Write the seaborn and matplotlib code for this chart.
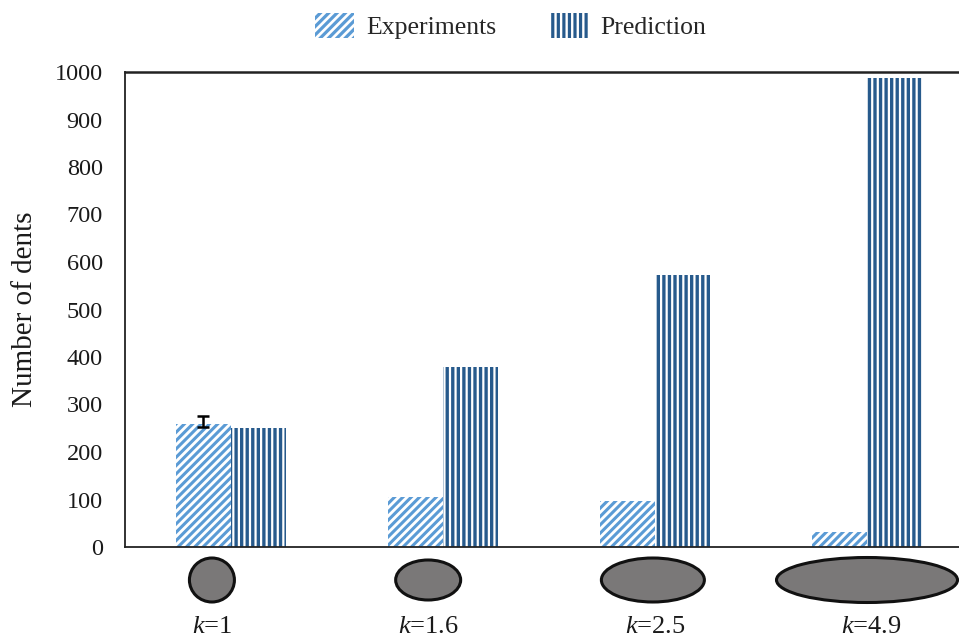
import numpy as np
import pandas as pd
import matplotlib
matplotlib.use("Agg")
import matplotlib.pyplot as plt
import matplotlib.transforms as mtransforms
from matplotlib.patches import Ellipse, Patch
import seaborn as sns

# ---- data ----
categories = ["k=1", "k=1.6", "k=2.5", "k=4.9"]
tick_labels = [r"$k$=1", r"$k$=1.6", r"$k$=2.5", r"$k$=4.9"]
experiments = [259, 105, 97, 32]
prediction = [250, 379, 573, 987]
exp_err_low = [6]
exp_err_high = [17]
series_names = ["Experiments", "Prediction"]
yticks = list(range(0, 1001, 100))

# ellipse illustration (width/height in pixels) and label offsets (category units)
ell_w = [45, 65, 103, 181]
ell_h = [44, 40, 44, 45]
ell_dx = [-0.09, -0.07, -0.01, 0.0]
lab_dx = [-0.09, -0.07, 0.0, 0.02]

df = pd.DataFrame({
    "k": categories * 2,
    "dents": experiments + prediction,
    "series": [series_names[0]] * 4 + [series_names[1]] * 4,
})

sns.set_theme(style="white")
plt.rcParams["font.family"] = ["Liberation Serif", "DejaVu Serif"]
plt.rcParams["mathtext.fontset"] = "custom"
plt.rcParams["mathtext.rm"] = "Liberation Serif"
plt.rcParams["mathtext.it"] = "Liberation Serif:italic"
plt.rcParams["hatch.linewidth"] = 2.3

c_exp = "#5b9bd5"
c_pred = "#275a8c"

W, H = 959, 643
fig = plt.figure(figsize=(W / 100, H / 100), dpi=100)
ax = fig.add_axes([125 / W, 1 - 547 / H, 848 / W, 475 / H])

sns.barplot(data=df, x="k", y="dents", hue="series", order=categories,
            hue_order=series_names, width=0.52, ax=ax, legend=False,
            palette=["white", "white"], errorbar=None)

hatches = ["////", "|||"]
colors = [c_exp, c_pred]
hlw = [2.2, 2.4]
for cont, h, c, lw in zip(ax.containers, hatches, colors, hlw):
    for bar in cont:
        bar.set_facecolor("white")
        bar.set_edgecolor(c)
        bar.set_linewidth(0)
        bar.set_hatch(h)
        try:
            bar.set_hatch_linewidth(lw)
        except Exception:
            pass

# error bar on first experiment bar
b0 = ax.containers[0][0]
ax.errorbar([b0.get_x() + b0.get_width() / 2], [experiments[0]],
            yerr=[exp_err_low, exp_err_high], fmt="none", ecolor="black",
            elinewidth=1.8, capsize=4, capthick=1.8, zorder=5)

ax.set_xlim(-0.5, 3.5)
ax.set_ylim(0, 1000)
ax.set_yticks(yticks)
ax.set_yticklabels([str(t) for t in yticks], fontsize=17.5)
ax.tick_params(axis="y", length=0, pad=16, colors="#1a1a1a")
ax.set_xticks([])
ax.set_xlabel("")
ax.set_ylabel("Number of dents", fontsize=21, labelpad=12, color="#1a1a1a")

for s in ["left", "top", "bottom"]:
    ax.spines[s].set_visible(True)
    ax.spines[s].set_color("#222222")
    ax.spines[s].set_linewidth(1.3)
ax.spines["top"].set_linewidth(1.8)
ax.spines["right"].set_visible(False)

# ellipse illustrations and category labels below axis
px_x = 212.0  # pixels per category
px_y = 475.0
trans = mtransforms.blended_transform_factory(ax.transData, ax.transAxes)
for i in range(len(categories)):
    e = Ellipse((i + ell_dx[i], -33 / px_y), width=ell_w[i] / px_x,
                height=ell_h[i] / px_y, transform=trans, facecolor="#7a7878",
                edgecolor="#111111", linewidth=2.2, clip_on=False)
    ax.add_patch(e)
    ax.text(i + lab_dx[i], -80 / px_y, tick_labels[i], transform=trans,
            ha="center", va="center", fontsize=19, color="#1a1a1a", clip_on=False)

handles = [Patch(facecolor="white", edgecolor=c, hatch=h, linewidth=0)
           for c, h in zip(colors, hatches)]
for hd, lw in zip(handles, hlw):
    try:
        hd.set_hatch_linewidth(lw)
    except Exception:
        pass
fig.legend(handles, series_names, loc="center", bbox_to_anchor=(511 / W, 1 - 26 / H),
           ncol=2, frameon=False, fontsize=18.5, handlelength=1.5, handleheight=1.1,
           handletextpad=0.47, columnspacing=2.1)

fig.savefig("out.png", dpi=100)
